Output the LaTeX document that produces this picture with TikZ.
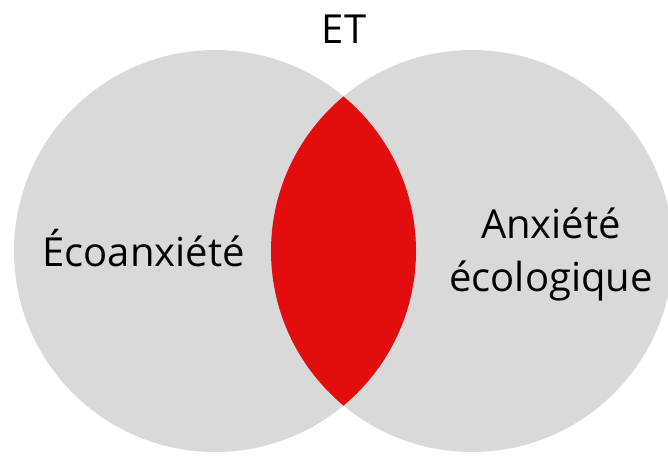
\documentclass[tikz,border=0pt]{standalone}
\usepackage{fontspec}
\setmainfont{Open Sans}
\definecolor{venngray}{RGB}{217,217,217}
\definecolor{vennred}{RGB}{228,13,13}
\begin{document}
\begin{tikzpicture}[x=1pt,y=-1pt,
  lbl/.style={anchor=base,inner sep=0pt,font=\fontsize{40}{48}\selectfont,text=black}]
\useasboundingbox (0,0) rectangle (668,455);
\clip (0,0) rectangle (668,455);
\fill[venngray] (215,251) circle[radius=201];
\fill[venngray] (472,251) circle[radius=201];
\begin{scope}
  \clip (215,251) circle[radius=201];
  \fill[vennred] (472,251) circle[radius=201];
\end{scope}
\node[lbl] (et) at (344,43) {ET};
\node[lbl] (eco) at (143.5,266) {Écoanxiété};
\node[lbl] (anx1) at (551,238) {Anxiété};
\node[lbl] (anx2) at (551,291) {écologique};
\end{tikzpicture}
\end{document}
